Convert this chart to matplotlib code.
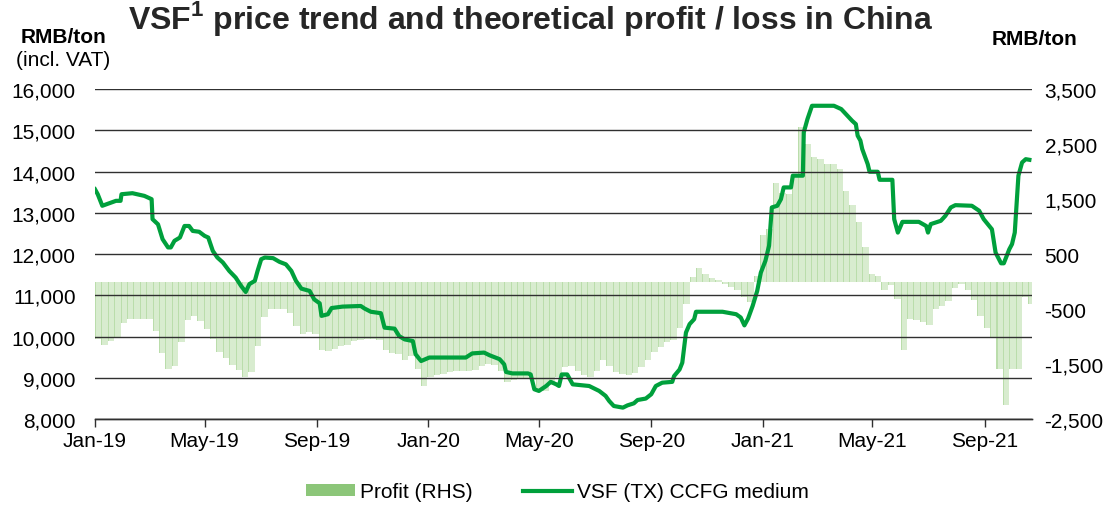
import numpy as np
import pandas as pd
import matplotlib
matplotlib.use("Agg")
from matplotlib import pyplot as plt
import matplotlib.dates as mdates
from matplotlib.ticker import FuncFormatter
from matplotlib.patches import Patch
from matplotlib.lines import Line2D

plt.rcParams['font.family'] = ['Liberation Sans', 'DejaVu Sans']
plt.rcParams['mathtext.fontset'] = 'custom'
plt.rcParams['mathtext.rm'] = 'Liberation Sans'
plt.rcParams['mathtext.bf'] = 'Liberation Sans:bold'

# VSF (TX) CCFG medium price, RMB/ton (left axis)
price_dates = [
    "2019-01-01", "2019-01-04", "2019-01-09", "2019-01-24", "2019-01-29", "2019-01-30",
    "2019-02-11", "2019-02-24", "2019-03-04", "2019-03-05", "2019-03-11", "2019-03-16",
    "2019-03-22", "2019-03-25", "2019-03-29", "2019-04-04", "2019-04-09", "2019-04-14",
    "2019-04-18", "2019-04-25", "2019-05-01", "2019-05-05", "2019-05-10", "2019-05-15",
    "2019-05-21", "2019-05-28", "2019-06-04", "2019-06-10", "2019-06-15", "2019-06-19",
    "2019-06-25", "2019-06-28", "2019-07-02", "2019-07-06", "2019-07-15", "2019-07-22",
    "2019-07-29", "2019-08-04", "2019-08-09", "2019-08-15", "2019-08-24", "2019-08-29",
    "2019-09-04", "2019-09-06", "2019-09-13", "2019-09-17", "2019-09-29", "2019-10-19",
    "2019-10-23", "2019-10-30", "2019-11-10", "2019-11-14", "2019-11-25", "2019-11-28",
    "2019-11-30", "2019-12-06", "2019-12-15", "2019-12-18", "2019-12-24", "2020-01-02",
    "2020-02-11", "2020-02-18", "2020-03-02", "2020-03-08", "2020-03-19", "2020-03-24",
    "2020-03-26", "2020-04-02", "2020-04-19", "2020-04-22", "2020-04-26", "2020-05-01",
    "2020-05-09", "2020-05-14", "2020-05-20", "2020-05-23", "2020-05-26", "2020-06-01",
    "2020-06-07", "2020-06-25", "2020-07-06", "2020-07-13", "2020-07-17", "2020-07-22",
    "2020-08-01", "2020-08-06", "2020-08-13", "2020-08-17", "2020-08-26", "2020-09-01",
    "2020-09-06", "2020-09-13", "2020-09-24", "2020-09-26", "2020-10-02", "2020-10-05",
    "2020-10-09", "2020-10-13", "2020-10-18", "2020-10-20", "2020-11-18", "2020-12-03",
    "2020-12-08", "2020-12-12", "2020-12-16", "2020-12-21", "2020-12-26", "2020-12-30",
    "2021-01-04", "2021-01-08", "2021-01-11", "2021-01-17", "2021-01-21", "2021-01-24",
    "2021-02-01", "2021-02-03", "2021-02-14", "2021-02-15", "2021-02-19", "2021-02-24",
    "2021-03-20", "2021-03-28", "2021-04-09", "2021-04-13", "2021-04-15", "2021-04-18",
    "2021-04-20", "2021-04-26", "2021-04-28", "2021-05-07", "2021-05-09", "2021-05-23",
    "2021-05-25", "2021-05-29", "2021-06-03", "2021-06-21", "2021-06-29", "2021-07-01",
    "2021-07-04", "2021-07-15", "2021-07-20", "2021-07-26", "2021-07-31", "2021-08-18",
    "2021-08-26", "2021-08-31", "2021-09-09", "2021-09-13", "2021-09-19", "2021-09-22",
    "2021-09-28", "2021-10-01", "2021-10-04", "2021-10-08", "2021-10-12", "2021-10-16",
    "2021-10-20",
]
price_values = [
    13570, 13450, 13170, 13290, 13290, 13450, 13475, 13410, 13330, 12845, 12720, 12360,
    12160, 12160, 12320, 12400, 12680, 12680, 12560, 12540, 12440, 12400, 12075, 11915,
    11795, 11590, 11430, 11225, 11080, 11270, 11350, 11590, 11875, 11915, 11900, 11810,
    11750, 11590, 11350, 11160, 11105, 10900, 10805, 10500, 10540, 10690, 10725, 10740,
    10680, 10600, 10565, 10215, 10190, 10080, 10010, 9930, 9890, 9570, 9405, 9490,
    9490, 9590, 9610, 9545, 9450, 9325, 9140, 9105, 9105, 9080, 8720, 8680,
    8800, 8900, 8840, 8800, 9080, 9080, 8840, 8800, 8680, 8560, 8435, 8315,
    8275, 8330, 8380, 8460, 8495, 8600, 8800, 8880, 8900, 9040, 9200, 9365,
    10095, 10300, 10420, 10600, 10600, 10540, 10460, 10270, 10435, 10740, 11105, 11550,
    11835, 12200, 13130, 13170, 13330, 13615, 13615, 13900, 13900, 14950, 15270, 15595,
    15595, 15515, 15230, 15150, 14870, 14750, 14545, 14180, 13995, 13995, 13800, 13800,
    12845, 12520, 12780, 12780, 12680, 12520, 12725, 12805, 12925, 13130, 13185, 13170,
    13050, 12845, 12600, 12035, 11775, 11775, 12115, 12240, 12520, 13900, 14220, 14300,
    14285,
]

# Theoretical profit / loss, RMB/ton (right axis), weekly from 2019-01-01
profit_start = "2019-01-01"
profit_values = [
    -1045, -1160, -1076, -1000, -750, -682, -682, -682, -690, -900,
    -1300, -1600, -1530, -1106, -700, -620, -720, -860, -1050, -1290,
    -1400, -1520, -1610, -1730, -1650, -1170, -640, -500, -500, -505,
    -570, -803, -950, -924, -950, -1250, -1270, -1227, -1180, -1150,
    -1090, -1060, -1045, -1045, -1070, -1250, -1295, -1310, -1420, -1349,
    -1600, -1900, -1740, -1705, -1690, -1652, -1636, -1621, -1621, -1610,
    -1545, -1500, -1515, -1620, -1820, -1790, -1773, -1775, -1795, -1990,
    -1990, -1875, -1740, -1560, -1530, -1630, -1700, -1735, -1620, -1430,
    -1530, -1652, -1690, -1700, -1655, -1560, -1420, -1288, -1190, -1100,
    -1060, -850, -400, 80, 240, 130, 60, 20, -40, -95,
    -155, -280, -380, 100, 850, 950, 1800, 1610, 1600, 1924,
    2803, 2500, 2258, 2227, 2136, 2136, 2050, 1640, 1400, 1080,
    620, 130, 100, -160, -60, -318, -1250, -690, -705, -740,
    -790, -500, -450, -360, -110, -40, -150, -340, -620, -850,
    -1000, -1600, -2250, -1590, -1590, -280, -409,
]

LINE_GREEN = "#00A03C"
BAR_LIGHT = "#D8ECCF"
BAR_STRIPE = "#BADDAB"
LEGEND_GREEN = "#8CC679"

price_x = pd.to_datetime(price_dates)
profit_x = pd.date_range(profit_start, periods=len(profit_values), freq="7D")

fig = plt.figure(figsize=(11.11, 5.06), dpi=100)
ax1 = fig.add_axes([0.0855, 0.170, 0.8435, 0.652])
ax2 = ax1.twinx()

# profit bars on the right axis, drawn below the price line
ax2.bar(profit_x, profit_values, width=7, align="edge", color=BAR_LIGHT, linewidth=0)
ax2.bar(profit_x, profit_values, width=1.1, align="edge", color=BAR_STRIPE, linewidth=0)

ax1.set_zorder(ax2.get_zorder() + 1)
ax1.patch.set_visible(False)
ax1.plot(price_x, price_values, color=LINE_GREEN, lw=3.0, solid_joinstyle="round")

ax1.set_ylim(8000, 16000)
ax2.set_ylim(-2500, 3500)
ax1.set_xlim(pd.Timestamp("2019-01-01"), pd.Timestamp("2021-10-23"))

thousands = FuncFormatter(lambda v, p: f"{v:,.0f}")
ax1.set_yticks(np.arange(8000, 16001, 1000))
ax2.set_yticks(np.arange(-2500, 3501, 1000))
ax1.yaxis.set_major_formatter(thousands)
ax2.yaxis.set_major_formatter(thousands)
ax1.grid(axis="y", color="#303030", lw=1.0)
ax1.set_axisbelow(False)

ax1.xaxis.set_major_locator(mdates.MonthLocator(bymonth=[1, 5, 9]))
ax1.xaxis.set_major_formatter(mdates.DateFormatter("%b-%y"))

for ax in (ax1, ax2):
    for side in ("top", "left", "right"):
        ax.spines[side].set_visible(False)
    ax.spines["bottom"].set_color("#303030")
    ax.spines["bottom"].set_linewidth(1.0)
ax1.tick_params(axis="y", length=0, pad=14, labelsize=15)
ax2.tick_params(axis="y", length=0, pad=9, labelsize=15)
ax1.tick_params(axis="x", length=6, width=1.0, color="#303030", pad=3, labelsize=15)

fig.text(0.478, 0.943, r"VSF$^{\mathbf{1}}$ price trend and theoretical profit / loss in China",
         ha="center", va="baseline", fontsize=23, fontweight="bold", color="#262626")
fig.text(0.057, 0.915, "RMB/ton", ha="center", va="baseline", fontsize=15, fontweight="bold")
fig.text(0.057, 0.870, "(incl. VAT)", ha="center", va="baseline", fontsize=15)
fig.text(0.9315, 0.911, "RMB/ton", ha="center", va="baseline", fontsize=15, fontweight="bold")

handles = [Patch(facecolor=LEGEND_GREEN, edgecolor="none"),
           Line2D([0], [0], color=LINE_GREEN, lw=3.0)]
fig.legend(handles, ["Profit (RHS)", "VSF (TX) CCFG medium"], loc="center",
           bbox_to_anchor=(0.502, 0.026), ncol=2, frameon=False, fontsize=15,
           handlelength=2.35, handleheight=0.45, columnspacing=2.4, handletextpad=0.25)

fig.savefig("out.png", dpi=100)
